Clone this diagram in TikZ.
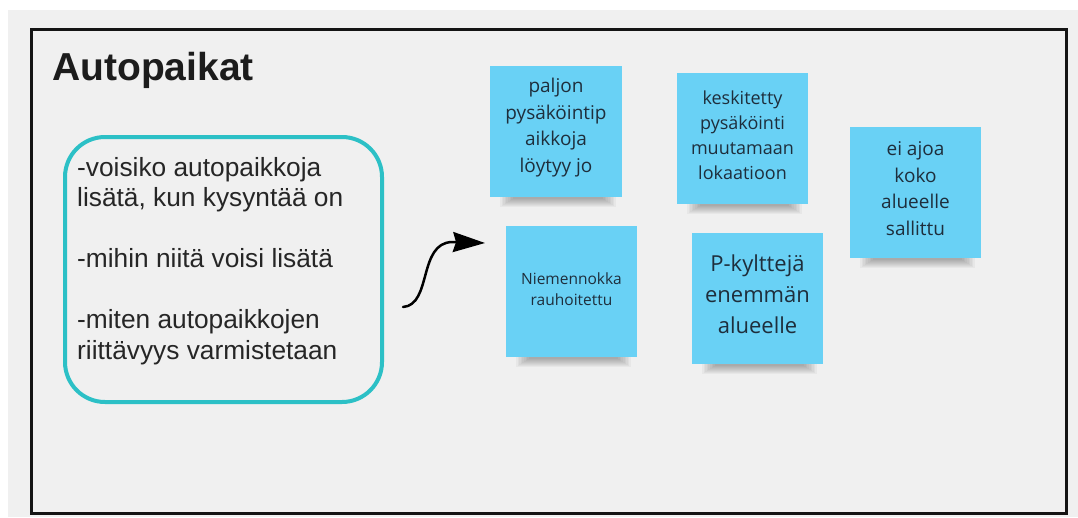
\documentclass[tikz,border=0pt]{standalone}
\usepackage{fontspec}
\setmainfont{Liberation Sans}
\newfontfamily\notefont{Open Sans}
\usetikzlibrary{arrows.meta}
\definecolor{bgray}{HTML}{F0F0F0}
\definecolor{tealline}{HTML}{2CC0C6}
\definecolor{stickyblue}{HTML}{69D1F5}
\definecolor{notetext}{HTML}{1E2E3C}
\definecolor{bodytext}{HTML}{262626}
\definecolor{titletext}{HTML}{1C1C1C}
\newcommand\stickyshadow[3]{%
  \foreach \k in {0,...,8}{%
    \fill[black,opacity=0.035] ({#1+10+1.6*\k},{#3-2}) rectangle ({#2-6-1.6*\k},{#3+10-1.0*\k});
  }%
}
\newcommand\lowpad[1]{\rule[-#1]{0pt}{1pt}}
\begin{document}
\begin{tikzpicture}[x=1pt,y=-1pt,
  stickynote/.style={fill=stickyblue, draw=none, minimum width=131pt, minimum height=131pt,
    inner sep=0pt, align=center, text=notetext},
  notemid/.style={font={\notefont\fontsize{19}{26.5}\selectfont}},
  frame/.style={line width=3pt, draw=black!92},
  qbox/.style={line width=4pt, draw=tealline, rounded corners=40pt},
  connector/.style={line width=2.5pt, line cap=round, -{Stealth[length=32pt,width=20pt,inset=3pt]}}]
\useasboundingbox (0,0) rectangle (1078,517);
\fill[white] (0,0) rectangle (1078,517);
\fill[bgray] (8,10) rectangle (1078,517);
\draw[frame] (31,29.5) rectangle (1066.5,513);

\node[anchor=base west, inner sep=0pt, text=titletext, font={\bfseries\fontsize{39}{44}\selectfont}] (title) at (52,80) {Autopaikat};

\draw[qbox] (65,137) rectangle (382,402);
\node[anchor=north west, inner sep=0pt, align=left, text=bodytext, font={\fontsize{26.3}{30.5}\selectfont}] (questions) at (77,157.2)
  {-voisiko autopaikkoja\\lisätä, kun kysyntää on\\[30.5pt]-mihin niitä voisi lisätä\\[30.5pt]-miten autopaikkojen\\riittävyys varmistetaan};

% shadows
\stickyshadow{490}{622}{197}
\stickyshadow{677}{808}{204}
\stickyshadow{850}{981}{258}
\stickyshadow{506}{637}{357}
\stickyshadow{692}{823}{364}

\node[stickynote, notemid, minimum width=132pt] (n1) at (556,131.5) {paljon\\pysäköintip\\aikkoja\\löytyy jo\lowpad{12pt}};
\node[stickynote, font={\notefont\fontsize{18}{25}\selectfont}] (n2) at (742.5,138.5) {keskitetty\\pysäköinti\\muutamaan\\lokaatioon\lowpad{7pt}};
\node[stickynote, notemid] (n3) at (915.5,192.5) {ei ajoa\\koko\\alueelle\\sallittu\lowpad{7.5pt}};
\node[stickynote, font={\notefont\fontsize{15.5}{20.7}\selectfont}] (n4) at (571.5,291.5) {Niemennokka\\rauhoitettu\lowpad{5pt}};
\node[stickynote, font={\notefont\fontsize{22}{31}\selectfont}] (n5) at (757.5,298.5) {P-kylttejä\\enemmän\\alueelle\lowpad{8pt}};

\coordinate (arrS) at (403,307);
\coordinate (arrB) at (452,242);
\coordinate (arrE) at (485,243);
\draw[connector] (arrS) .. controls (432,305) and (418,243) .. (arrB) -- (arrE);
\end{tikzpicture}
\end{document}
